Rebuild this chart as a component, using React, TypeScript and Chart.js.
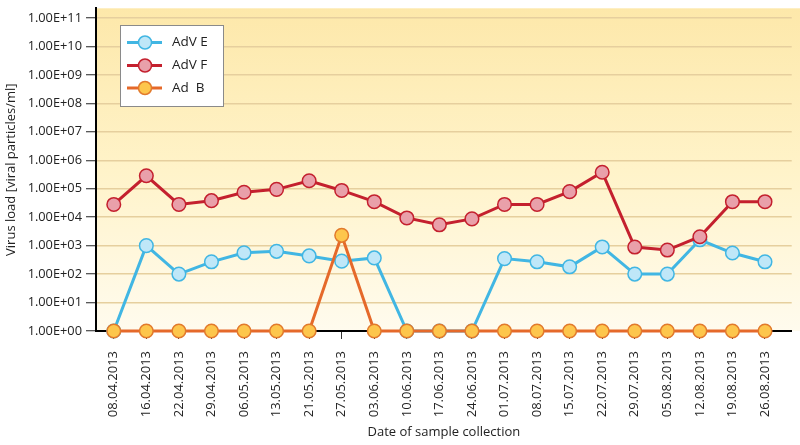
import React, { useEffect, useRef } from "react";
import { Chart, registerables } from "chart.js";

Chart.register(...registerables);

const dates = [
  "08.04.2013", "16.04.2013", "22.04.2013", "29.04.2013", "06.05.2013", "13.05.2013",
  "21.05.2013", "27.05.2013", "03.06.2013", "10.06.2013", "17.06.2013", "24.06.2013",
  "01.07.2013", "08.07.2013", "15.07.2013", "22.07.2013", "29.07.2013", "05.08.2013",
  "12.08.2013", "19.08.2013", "26.08.2013",
];

const advE = [1, 1000, 100, 270, 560, 630, 435, 285, 370, 1, 1, 1, 350, 270, 180, 900, 100, 100, 1600, 550, 270];
const advF = [28000, 285000, 28000, 38000, 75000, 95000, 190000, 87000, 35000, 9400, 5400, 8700, 28000, 28000, 79000, 380000, 890, 700, 2050, 35000, 35000];
const adB = [1, 1, 1, 1, 1, 1, 1, 2300, 1, 1, 1, 1, 1, 1, 1, 1, 1, 1, 1, 1, 1];

const yTickValues = [1, 1e1, 1e2, 1e3, 1e4, 1e5, 1e6, 1e7, 1e8, 1e9, 1e10, 1e11];

const seriesNames = ["AdV E", "AdV F", "Ad  B"];
const lineColors = ["#41b6e3", "#c4202e", "#e5692a"];
const fillColors = ["#bfe7f8", "#e9a0aa", "#fdc64c"];
const pointBorders = ["#41b6e3", "#c4202e", "#e27a2c"];

const FONT = "'Open Sans', 'Noto Sans', sans-serif";

function fmtExp(v: number) {
  const e = Math.round(Math.log10(v));
  return "1.00E+" + (e < 10 ? "0" + e : String(e));
}

const bgPlugin = {
  id: "bgPlugin",
  beforeDraw(chart: any) {
    const { ctx, chartArea } = chart;
    const g = ctx.createLinearGradient(0, chartArea.top, 0, chartArea.bottom);
    g.addColorStop(0, "#fde8aa");
    g.addColorStop(0.5, "#fff3c9");
    g.addColorStop(1, "#fffbee");
    ctx.save();
    ctx.fillStyle = g;
    ctx.fillRect(chartArea.left, chartArea.top, chart.width - chartArea.left, chartArea.bottom - chartArea.top);
    ctx.restore();
  },
};

const legendPlugin = {
  id: "legendBox",
  afterDraw(chart: any) {
    const { ctx } = chart;
    ctx.save();
    ctx.fillStyle = "#ffffff";
    ctx.fillRect(120, 25, 103, 81);
    ctx.strokeStyle = "#8a8a8a";
    ctx.lineWidth = 1;
    ctx.strokeRect(120.5, 25.5, 103, 81);
    const rows = [42.5, 65.5, 88];
    seriesNames.forEach((name, i) => {
      const y = rows[i];
      ctx.strokeStyle = lineColors[i];
      ctx.lineWidth = 3;
      ctx.beginPath();
      ctx.moveTo(127, y);
      ctx.lineTo(162, y);
      ctx.stroke();
      ctx.beginPath();
      ctx.arc(145, y, 6.5, 0, Math.PI * 2);
      ctx.fillStyle = fillColors[i];
      ctx.fill();
      ctx.lineWidth = 1.5;
      ctx.strokeStyle = pointBorders[i];
      ctx.stroke();
      ctx.fillStyle = "#222";
      ctx.font = "13.5px " + FONT;
      ctx.textBaseline = "middle";
      ctx.textAlign = "left";
      ctx.fillText(name, 172, y);
    });
    ctx.restore();
  },
};

export default function App() {
  const ref = useRef<HTMLCanvasElement>(null);
  useEffect(() => {
    if (!ref.current) return;
    const series = [advE, advF, adB];
    const chart = new Chart(ref.current, {
      type: "line",
      data: {
        datasets: series.map((vals, i) => ({
          label: seriesNames[i],
          data: vals.map((v, j) => ({ x: j, y: v })),
          borderColor: lineColors[i],
          backgroundColor: fillColors[i],
          pointBackgroundColor: fillColors[i],
          pointBorderColor: pointBorders[i],
          pointBorderWidth: 1.5,
          pointRadius: 6.8,
          borderWidth: 3,
          tension: 0,
          clip: false as any,
          order: 3 - i,
        })),
      },
      options: {
        responsive: false,
        animation: false,
        layout: { padding: 0 },
        plugins: {
          legend: { display: false },
          tooltip: { enabled: false },
          title: { display: false },
        },
        scales: {
          x: {
            type: "linear",
            min: -0.546,
            max: 20.82,
            afterBuildTicks: (scale: any) => {
              scale.ticks = dates.map((_, i) => ({ value: i }));
            },
            afterFit: (scale: any) => {
              scale.height = 114;
              scale.paddingLeft = 0;
              scale.paddingRight = 0;
            },
            ticks: {
              autoSkip: false,
              minRotation: 90,
              maxRotation: 90,
              padding: 12,
              color: "#222",
              font: { family: FONT, size: 13 },
              callback: (v: any) => dates[v as number] ?? "",
            },
            grid: {
              drawOnChartArea: false,
              drawTicks: true,
              tickLength: 8,
              tickColor: "#333",
              tickWidth: 1,
            },
            border: { color: "#000", width: 2 },
            title: {
              display: true,
              text: "Date of sample collection",
              color: "#222",
              font: { family: FONT, size: 13 },
              padding: { top: 4, bottom: 5 },
            },
          },
          y: {
            type: "logarithmic",
            min: 1,
            max: Math.pow(10, 11.34),
            afterBuildTicks: (scale: any) => {
              scale.ticks = yTickValues.map((v) => ({ value: v }));
            },
            afterFit: (scale: any) => {
              scale.width = 96;
              scale.paddingTop = 0;
              scale.paddingBottom = 0;
            },
            ticks: {
              padding: 4,
              color: "#222",
              font: { family: FONT, size: 12.8 },
              callback: (v: any) => fmtExp(v as number),
            },
            grid: {
              color: (c: any) => (c.tick && c.tick.value === 1 ? "rgba(0,0,0,0)" : "#e6cf9e"),
              lineWidth: 1.5,
              tickLength: 10,
              tickColor: "#222",
              tickWidth: 1,
            },
            border: { color: "#000", width: 2 },
            title: {
              display: true,
              text: "Virus load [viral particles/ml]",
              color: "#222",
              font: { family: FONT, size: 13 },
              padding: { top: 3, bottom: 3 },
            },
          },
        },
      },
      plugins: [bgPlugin, legendPlugin],
    } as any);
    return () => chart.destroy();
  }, []);
  return (
    <div style={{ position: "fixed", left: 0, top: 0, width: 800, height: 445, background: "#fff" }}>
      <canvas ref={ref} width={800} height={445} />
    </div>
  );
}
